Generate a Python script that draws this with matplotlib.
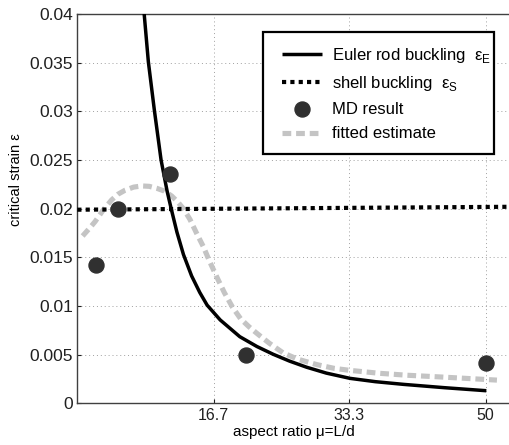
import matplotlib
matplotlib.use("Agg")
import matplotlib.pyplot as plt
from matplotlib.patches import Rectangle

# ---- data ----
md_mu = [2.3, 5.0, 11.4, 20.7, 50.0]
md_eps = [0.01425, 0.0200, 0.02357, 0.00495, 0.00419]

euler_mu = [8.19, 8.7, 9.44, 10.26, 11.0, 11.5, 12.2, 13.0, 14.0, 15.0, 15.9,
            17.5, 19.9, 22.0, 24.0, 26.0, 28.1, 30.5, 33.4, 36.5, 40.0, 45.0, 50.1]
euler_eps = [0.0400, 0.0351, 0.0301, 0.0250, 0.0218, 0.0200, 0.0176, 0.0153,
             0.0131, 0.0114, 0.0101, 0.00858, 0.00686, 0.00585, 0.00505,
             0.00435, 0.00372, 0.00312, 0.00258, 0.00224, 0.00196, 0.00162, 0.00131]

shell_mu = [0.0, 53.0]
shell_eps = [0.0199, 0.0202]

fit_mu = [0.65, 1.5, 2.17, 3.2, 4.2, 5.0, 5.85, 6.9, 7.9, 8.8, 9.73, 10.7,
          11.57, 12.3, 13.0, 13.8, 14.6, 15.44, 16.2, 17.08, 18.0, 19.0, 20.0,
          21.0, 22.0, 23.5, 25.2, 27.0, 29.3, 31.5, 33.4, 37.0, 40.4, 45.0, 51.4]
fit_eps = [0.0172, 0.0180, 0.01867, 0.0199, 0.0209, 0.0215, 0.0219, 0.02222,
           0.02234, 0.0223, 0.0221, 0.0218, 0.0213, 0.0207, 0.0200, 0.0189,
           0.0175, 0.0161, 0.0146, 0.0130, 0.0114, 0.0099, 0.0087, 0.0079,
           0.0072, 0.0062, 0.0052, 0.00455, 0.0040, 0.0036, 0.0034, 0.0031,
           0.0029, 0.0027, 0.0024]

xticks = [16.7, 33.3, 50]
xtick_labels = ["16.7", "33.3", "50"]
yticks = [0, 0.005, 0.01, 0.015, 0.02, 0.025, 0.03, 0.035, 0.04]
ytick_labels = ["0", "0.005", "0.01", "0.015", "0.02", "0.025", "0.03", "0.035", "0.04"]

plt.rcParams['font.family'] = ['Liberation Sans', 'DejaVu Sans']
plt.rcParams['mathtext.fontset'] = 'custom'
plt.rcParams['mathtext.rm'] = 'Liberation Sans'

W, H = 510, 445
fig = plt.figure(figsize=(W / 100, H / 100), dpi=100)
ax = fig.add_axes([0.1516, 0.0933, 0.8484, 0.8753])

ax.plot(euler_mu, euler_eps, color='black', lw=2.5, solid_capstyle='butt',
        solid_joinstyle='round',
        label=r'Euler rod buckling  ε$_{\mathrm{E}}$', zorder=3)
ax.plot(shell_mu, shell_eps, color='black', lw=3.0, linestyle=(0, (1, 1)),
        label=r'shell buckling  ε$_{\mathrm{S}}$', zorder=3)
ax.plot(md_mu, md_eps, linestyle='none', marker='o', markersize=10.8,
        markerfacecolor='#303030', markeredgecolor='#303030',
        label='MD result', zorder=4)
ax.plot(fit_mu, fit_eps, color='#c4c4c4', lw=3.7, linestyle=(0, (1.7, 0.95)),
        solid_joinstyle='round', label='fitted estimate', zorder=2)

ax.set_xlim(0, 53.0)
ax.set_ylim(0, 0.04)
ax.set_xticks(xticks)
ax.set_xticklabels(xtick_labels)
ax.set_yticks(yticks)
ax.set_yticklabels(ytick_labels)
ax.tick_params(direction='in', length=3, pad=3, colors='#202020')
ax.tick_params(axis='y', labelsize=12.5)
ax.tick_params(axis='x', labelsize=11.5)
ax.grid(True, linestyle=(0, (1, 3)), color='#a0a0a0', lw=0.7)
ax.set_axisbelow(True)

for s in ['left', 'bottom', 'top']:
    ax.spines[s].set_color('#404040')
    ax.spines[s].set_linewidth(1.0)
ax.spines['right'].set_visible(False)

ax.set_xlabel('aspect ratio μ=L/d', fontsize=11, labelpad=2)
ax.set_ylabel('critical strain ε', fontsize=10.5, labelpad=5)
ax.yaxis.set_label_coords(-0.125, 0.574)

# legend box (drawn separately to match the wider left margin)
box = Rectangle((263 / W, 1 - 154 / H), (494 - 263) / W, (154 - 32) / H,
                transform=fig.transFigure, facecolor='white', edgecolor='black',
                lw=1.6, zorder=5)
ax.add_patch(box)
box.set_clip_on(False)

leg = ax.legend(loc='upper left', bbox_to_anchor=(282 / W, 1 - 46 / H),
                bbox_transform=fig.transFigure, fontsize=12,
                frameon=False, handlelength=2.4, labelspacing=0.55, borderpad=0,
                handletextpad=0.6, borderaxespad=0)
leg.set_zorder(6)

fig.savefig('out.png', dpi=100)
